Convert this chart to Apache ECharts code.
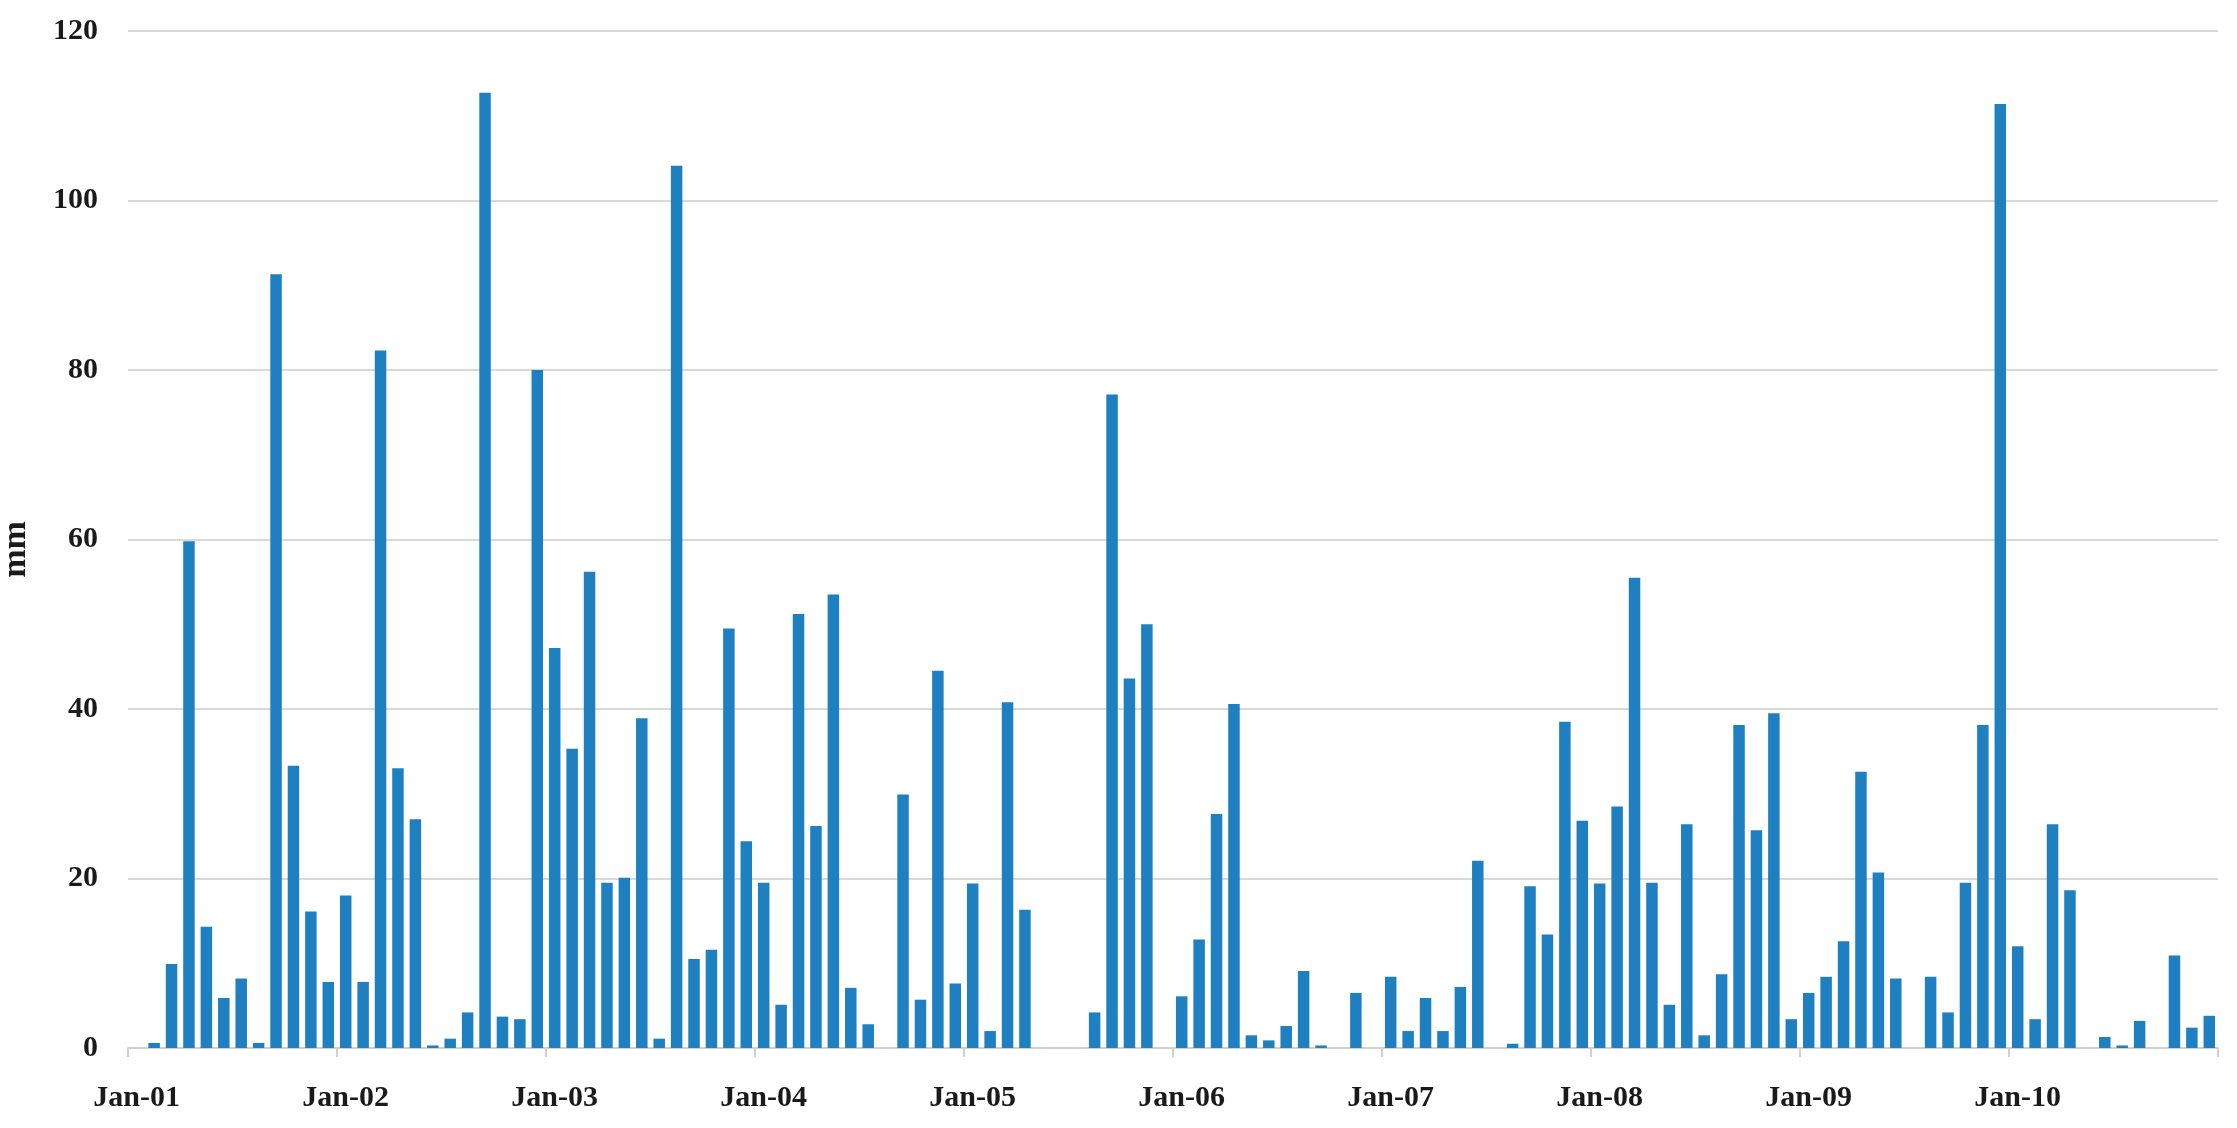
<!DOCTYPE html>
<html>
<head>
<meta charset="utf-8">
<script src="https://cdn.jsdelivr.net/npm/echarts@6/dist/echarts.min.js"></script>
<style>
  html, body { margin: 0; padding: 0; background: #ffffff; }
  #chart { width: 2237px; height: 1128px; }
</style>
</head>
<body>
<div id="chart"></div>
<script>
// ---- data ----
const years = ['01', '02', '03', '04', '05', '06', '07', '08', '09', '10'];
const monthNames = ['Jan', 'Feb', 'Mar', 'Apr', 'May', 'Jun', 'Jul', 'Aug', 'Sep', 'Oct', 'Nov', 'Dec'];
const yTicks = [0, 20, 40, 60, 80, 100, 120];
const yAxisName = 'mm';

const rain2001 = [0, 0.6, 9.9, 59.8, 14.3, 5.9, 8.2, 0.6, 91.3, 33.3, 16.1, 7.8];
const rain2002 = [18.0, 7.8, 82.3, 33.0, 27.0, 0.3, 1.1, 4.2, 112.7, 3.7, 3.4, 80.0];
const rain2003 = [47.2, 35.3, 56.2, 19.5, 20.1, 38.9, 1.1, 104.1, 10.5, 11.6, 49.5, 24.4];
const rain2004 = [19.5, 5.1, 51.2, 26.2, 53.5, 7.1, 2.8, 0, 29.9, 5.7, 44.5, 7.6];
const rain2005 = [19.4, 2.0, 40.8, 16.3, 0, 0, 0, 4.2, 77.1, 43.6, 50.0, 0];
const rain2006 = [6.1, 12.8, 27.6, 40.6, 1.5, 0.9, 2.6, 9.1, 0.3, 0, 6.5, 0];
const rain2007 = [8.4, 2.0, 5.9, 2.0, 7.2, 22.1, 0, 0.5, 19.1, 13.4, 38.5, 26.8];
const rain2008 = [19.4, 28.5, 55.5, 19.5, 5.1, 26.4, 1.5, 8.7, 38.1, 25.7, 39.5, 3.4];
const rain2009 = [6.5, 8.4, 12.6, 32.6, 20.7, 8.2, 0, 8.4, 4.2, 19.5, 38.1, 111.4];
const rain2010 = [12.0, 3.4, 26.4, 18.6, 0, 1.3, 0.3, 3.2, 0, 10.9, 2.4, 3.8];

// ---- build ----
const categories = [];
years.forEach(y => monthNames.forEach(m => categories.push(m + '-' + y)));
const values = [].concat(rain2001, rain2002, rain2003, rain2004, rain2005,
                         rain2006, rain2007, rain2008, rain2009, rain2010);

const FONT = '"Liberation Serif", "DejaVu Serif", serif';
const chart = echarts.init(document.getElementById('chart'), null, { renderer: 'canvas' });
chart.setOption({
  animation: false,
  backgroundColor: '#ffffff',
  grid: { left: 128, right: 19, top: 31, bottom: 80, containLabel: false, outerBoundsMode: 'none' },
  xAxis: {
    type: 'category',
    data: categories,
    boundaryGap: true,
    axisLine: { show: true, lineStyle: { color: '#d0d0d0', width: 2 } },
    axisTick: {
      show: true,
      length: 9,
      interval: (i) => i % 12 === 0,
      lineStyle: { color: '#d0d0d0', width: 2 }
    },
    axisLabel: {
      show: true,
      interval: (i) => i % 12 === 0,
      margin: 35,
      fontFamily: FONT,
      fontWeight: 'bold',
      fontSize: 30,
      color: '#1a1a1a'
    },
    splitLine: { show: false }
  },
  yAxis: {
    type: 'value',
    min: yTicks[0],
    max: yTicks[yTicks.length - 1],
    interval: 20,
    name: yAxisName,
    nameLocation: 'middle',
    nameRotate: 90,
    nameGap: 95,
    nameTextStyle: { fontFamily: FONT, fontWeight: 'bold', fontSize: 34, color: '#1a1a1a', padding: [0, 20, 0, 0] },
    axisLine: { show: false },
    axisTick: { show: false },
    axisLabel: {
      margin: 30,
      fontFamily: FONT,
      fontWeight: 'bold',
      fontSize: 30,
      color: '#1a1a1a'
    },
    splitLine: { show: true, lineStyle: { color: '#d9d9d9', width: 2 } }
  },
  series: [{
    type: 'bar',
    data: values,
    barCategoryGap: '34%',
    itemStyle: { color: '#1f80c1' }
  }]
});
</script>
</body>
</html>
